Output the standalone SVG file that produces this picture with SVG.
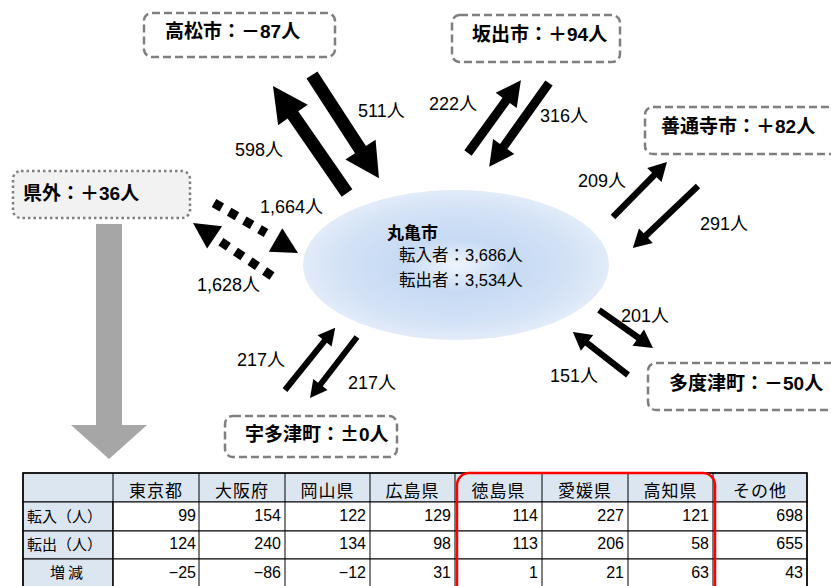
<svg xmlns="http://www.w3.org/2000/svg" width="831" height="586" viewBox="0 0 831 586">
<defs>
<radialGradient id="eg" cx="50%" cy="50%" r="50%">
<stop offset="0" stop-color="#f0f5fd"/>
<stop offset="0.35" stop-color="#c6daf3"/>
<stop offset="0.75" stop-color="#d3e2f6"/>
<stop offset="1" stop-color="#e2ebf9"/>
</radialGradient>
</defs>
<style>
text{font-family:"Liberation Sans","Noto Sans CJK JP",sans-serif;fill:#000}
.box{fill:#fff;stroke:#7f7f7f;stroke-width:2.5;stroke-dasharray:8 4}
.dot{fill:#f2f2f2;stroke:#7f7f7f;stroke-width:2.5;stroke-dasharray:2.5 3}
.tt{font-size:19px;font-weight:bold}
.lb{font-size:18px}
.arr{fill:#000}
.dl{stroke:#000;stroke-width:9;stroke-dasharray:9 8.5;fill:none}
.hd{fill:#dce6f1;stroke:#000;stroke-width:1}
.cl{fill:#fff;stroke:#000;stroke-width:1}
.th{font-size:17px;text-anchor:middle;letter-spacing:1px}
.rh{font-size:15px}
.nm{font-size:16px;text-anchor:end}
</style>
<rect width="831" height="586" fill="#fff"/>

<g id="marugame">
<ellipse cx="456" cy="265" rx="153" ry="75" fill="url(#eg)"/>
<text x="387" y="239" style="font-size:17px;font-weight:bold">丸亀市</text>
<text x="399" y="261" style="font-size:16.5px">転入者：3,686人</text>
<text x="399" y="286" style="font-size:16.5px">転出者：3,534人</text>
</g>

<g id="takamatsu">
<rect class="box" x="144" y="13" width="191" height="44" rx="8"/>
<text class="tt" x="165" y="38">高松市：－87人</text>
</g>
<g id="sakaide">
<rect class="box" x="452" y="15" width="168" height="47" rx="8"/>
<text class="tt" x="472" y="41">坂出市：＋94人</text>
</g>
<g id="zentsuji">
<rect class="box" x="645" y="107" width="200" height="47" rx="8"/>
<text class="tt" x="661" y="133">善通寺市：＋82人</text>
</g>
<g id="kengai">
<rect class="dot" x="13" y="171" width="177" height="47" rx="8"/>
<text class="tt" x="23" y="200">県外：＋36人</text>
</g>
<g id="utazu">
<rect class="box" x="225" y="416" width="172" height="41" rx="8"/>
<text class="tt" x="245" y="441">宇多津町：<tspan style="font-family:'Noto Sans CJK JP',sans-serif">±</tspan>0人</text>
</g>
<g id="tadotsu">
<rect class="box" x="648" y="363" width="200" height="47" rx="8"/>
<text class="tt" x="669" y="390">多度津町：－50人</text>
</g>

<g id="connectors">
<polygon class="arr" points="0,-6.5 95,-6.5 95,-18 130,0 95,18 95,6.5 0,6.5" transform="translate(347,193) rotate(-124.7)"/>
<polygon class="arr" points="0,-6.5 89,-6.5 89,-18 123,0 89,18 89,6.5 0,6.5" transform="translate(312,75) rotate(57)"/>
<polygon class="arr" points="0,-4.5 65,-4.5 65,-13 90,0 65,13 65,4.5 0,4.5" transform="translate(468,153) rotate(-54)"/>
<polygon class="arr" points="0,-4.5 78,-4.5 78,-13 103,0 78,13 78,4.5 0,4.5" transform="translate(549,83) rotate(125.5)"/>
<polygon class="arr" points="0,-3.2 59,-3.2 59,-10 77,0 59,10 59,3.2 0,3.2" transform="translate(613,217) rotate(-45.5)"/>
<polygon class="arr" points="0,-3.2 72,-3.2 72,-10 90,0 72,10 72,3.2 0,3.2" transform="translate(698,186) rotate(136.4)"/>
<polygon class="arr" points="0,-3.2 48,-3.2 48,-10 66,0 48,10 48,3.2 0,3.2" transform="translate(599,310) rotate(35.1)"/>
<polygon class="arr" points="0,-3.2 52,-3.2 52,-10 70,0 52,10 52,3.2 0,3.2" transform="translate(628,375) rotate(-142)"/>
<polygon class="arr" points="0,-3 63,-3 63,-9 80,0 63,9 63,3 0,3" transform="translate(285,390) rotate(-51.1)"/>
<polygon class="arr" points="0,-3 60,-3 60,-9 77,0 60,9 60,3 0,3" transform="translate(357,337) rotate(127.6)"/>
<line class="dl" x1="214" y1="203" x2="266" y2="233"/>
<polygon class="arr" points="298,253 282.3,228.3 268.8,251.7"/>
<line class="dl" x1="272" y1="276" x2="219" y2="240.5"/>
<polygon class="arr" points="193,223 222.1,226.2 207.1,248.6"/>
<polygon fill="#a6a6a6" points="96,224 122,224 122,425 147,425 109,459 71,425 96,425"/>
<text class="lb" x="235" y="156">598人</text>
<text class="lb" x="358" y="117">511人</text>
<text class="lb" x="260" y="213">1,664人</text>
<text class="lb" x="197" y="291">1,628人</text>
<text class="lb" x="429" y="110">222人</text>
<text class="lb" x="540" y="122">316人</text>
<text class="lb" x="578" y="187">209人</text>
<text class="lb" x="700" y="230">291人</text>
<text class="lb" x="621" y="322">201人</text>
<text class="lb" x="550" y="382">151人</text>
<text class="lb" x="237" y="366">217人</text>
<text class="lb" x="348" y="389">217人</text>
</g>

<g id="table">
<rect class="hd" x="23" y="473" width="784" height="29"/>
<rect class="hd" x="23" y="502" width="90" height="29"/>
<rect class="hd" x="23" y="531" width="90" height="28"/>
<rect class="hd" x="23" y="559" width="90" height="29"/>
<rect class="cl" x="113" y="502" width="694" height="29"/>
<rect class="cl" x="113" y="531" width="694" height="28"/>
<rect class="cl" x="113" y="559" width="694" height="29"/>
<g stroke="#000" stroke-width="1">
<line x1="113" y1="473" x2="113" y2="588"/>
<line x1="199" y1="473" x2="199" y2="588"/>
<line x1="285" y1="473" x2="285" y2="588"/>
<line x1="370" y1="473" x2="370" y2="588"/>
<line x1="455" y1="473" x2="455" y2="588"/>
<line x1="542" y1="473" x2="542" y2="588"/>
<line x1="628" y1="473" x2="628" y2="588"/>
<line x1="713" y1="473" x2="713" y2="588"/>
</g>
<rect x="23" y="473" width="784" height="120" fill="none" stroke="#000" stroke-width="1.5"/>
<text class="th" x="156" y="497">東京都</text>
<text class="th" x="242" y="497">大阪府</text>
<text class="th" x="327.5" y="497">岡山県</text>
<text class="th" x="412.5" y="497">広島県</text>
<text class="th" x="498.5" y="497">徳島県</text>
<text class="th" x="585" y="497">愛媛県</text>
<text class="th" x="670.5" y="497">高知県</text>
<text class="th" x="760" y="497">その他</text>
<text class="rh" x="27" y="522">転入（人）</text>
<text class="rh" x="27" y="550">転出（人）</text>
<text class="rh" x="68" y="578" text-anchor="middle" style="letter-spacing:3px">増減</text>
<g>
<text class="nm" x="196" y="521">99</text>
<text class="nm" x="281" y="521">154</text>
<text class="nm" x="366" y="521">122</text>
<text class="nm" x="451" y="521">129</text>
<text class="nm" x="538" y="521">114</text>
<text class="nm" x="624" y="521">227</text>
<text class="nm" x="709" y="521">121</text>
<text class="nm" x="803" y="521">698</text>
<text class="nm" x="196" y="549">124</text>
<text class="nm" x="281" y="549">240</text>
<text class="nm" x="366" y="549">134</text>
<text class="nm" x="451" y="549">98</text>
<text class="nm" x="538" y="549">113</text>
<text class="nm" x="624" y="549">206</text>
<text class="nm" x="709" y="549">58</text>
<text class="nm" x="803" y="549">655</text>
<text class="nm" x="196" y="578">−25</text>
<text class="nm" x="281" y="578">−86</text>
<text class="nm" x="366" y="578">−12</text>
<text class="nm" x="451" y="578">31</text>
<text class="nm" x="538" y="578">1</text>
<text class="nm" x="624" y="578">21</text>
<text class="nm" x="709" y="578">63</text>
<text class="nm" x="803" y="578">43</text>
</g>
<rect x="457" y="473" width="258" height="135" rx="12" fill="none" stroke="#ff0000" stroke-width="2.5"/>
</g>
</svg>
